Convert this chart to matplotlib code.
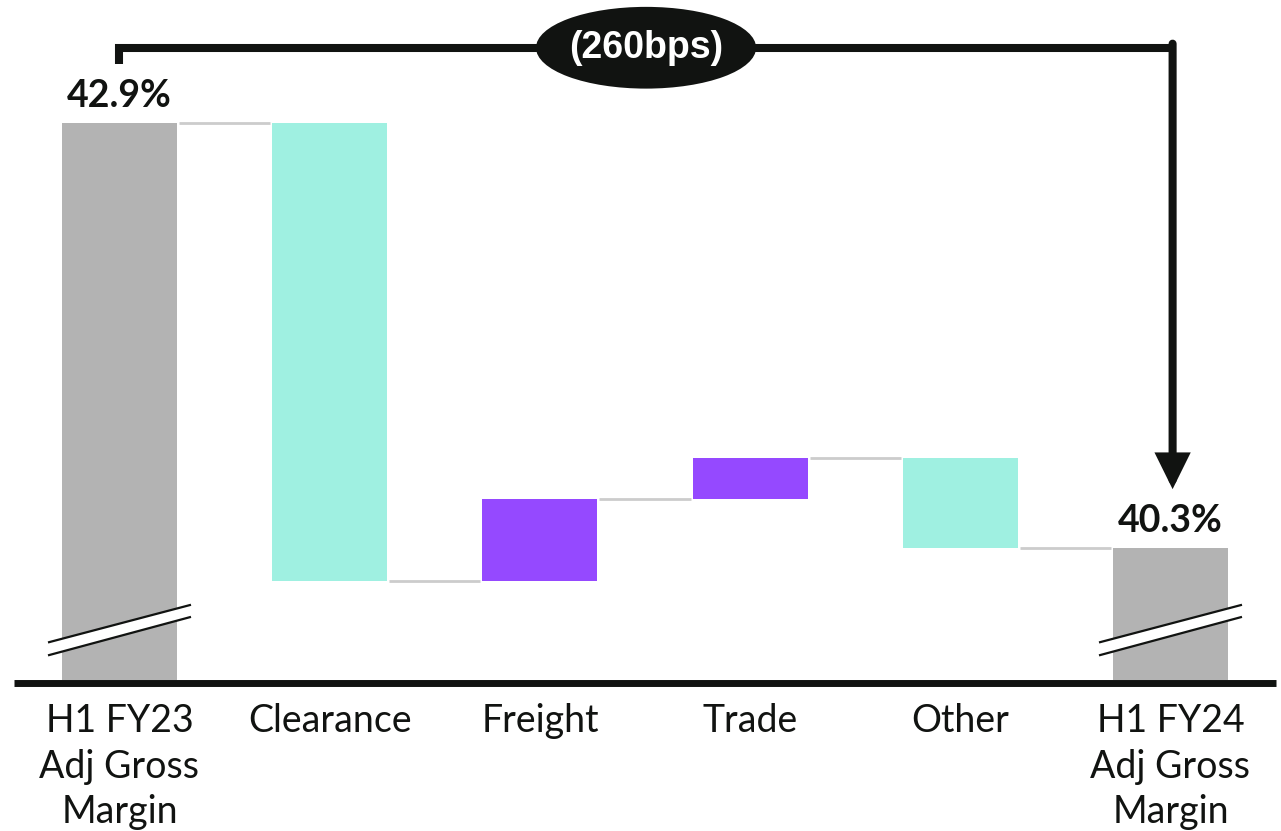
import matplotlib
matplotlib.use("Agg")
import matplotlib.pyplot as plt
from matplotlib.patches import Ellipse, Polygon

# waterfall data (percentage points of gross margin)
categories = ["H1 FY23\nAdj Gross\nMargin", "Clearance", "Freight", "Trade", "Other",
              "H1 FY24\nAdj Gross\nMargin"]
start_value = 42.9
deltas = [-2.8, 0.5, 0.25, -0.55]
end_value = 40.3
total_labels = ["42.9%", "40.3%"]
bridge_label = "(260bps)"

GREY = "#b3b3b3"
MINT = "#9ff0e1"
PURPLE = "#9549ff"
INK = "#111311"
CONN = "#cccccc"

fig = plt.figure(figsize=(12.81, 8.31), dpi=100)
ax = fig.add_axes([0, 0, 1, 1])
ax.set_xlim(-0.5685, 5.5257)
ax.set_ylim(38.569, 43.652)
ax.axis("off")

font = ["Lato", "DejaVu Sans"]
base = 39.492  # where the bars sit on the axis line
width = 0.547

# running level after each bar
levels = [start_value]
for d in deltas:
    levels.append(levels[-1] + d)

ax.bar(0, start_value - base, bottom=base, width=width, color=GREY, zorder=2)
for i, d in enumerate(deltas, start=1):
    lo = min(levels[i - 1], levels[i])
    col = MINT if d < 0 else PURPLE
    ax.bar(i, abs(d), bottom=lo, width=width, color=col, zorder=2)
ax.bar(5, end_value - base, bottom=base, width=width, color=GREY, zorder=2)

# connector lines between bars
for i in range(5):
    y = levels[i]
    ax.plot([i + width / 2 + 0.01, i + 1 - width / 2 - 0.01], [y, y],
            color=CONN, lw=2, zorder=1, solid_capstyle="butt")

# axis line
ax.plot([-0.5, 5.5], [base - 0.02, base - 0.02], color=INK, lw=5, zorder=4,
        solid_capstyle="butt")

# axis break marks on the total bars
for xc in (0, 5):
    dx = 0.335
    l1 = (base + 0.232, base + 0.459)
    l2 = (base + 0.153, base + 0.385)
    band = Polygon([(xc - dx, l1[0]), (xc + dx, l1[1]), (xc + dx, l2[1]), (xc - dx, l2[0])],
                   closed=True, facecolor="white", edgecolor="none", zorder=3)
    ax.add_patch(band)
    ax.plot([xc - dx, xc + dx], [l1[0], l1[1]], color=INK, lw=1.6, zorder=3)
    ax.plot([xc - dx, xc + dx], [l2[0], l2[1]], color=INK, lw=1.6, zorder=3)

# value labels on totals
for xc, v, lab in [(0, start_value, total_labels[0]), (5, end_value, total_labels[1])]:
    ax.annotate(lab, (xc, v), xytext=(0, 7), textcoords="offset points",
                ha="center", va="bottom", fontsize=27, fontweight="bold",
                color=INK, family=font)

# category labels
for i, c in enumerate(categories):
    ax.text(i, 0.154, c, transform=ax.get_xaxis_transform(), ha="center", va="top",
            fontsize=27, color=INK, family=font, linespacing=1.33)

# bracket with arrow
top = start_value + 0.46
tick_low = start_value + 0.36
tip = end_value + 0.36
ax.plot([0, 0, 5.01], [tick_low, top, top], color=INK, lw=5.8, zorder=5,
        solid_joinstyle="miter", solid_capstyle="butt")
ax.annotate("", xy=(5.01, tip), xytext=(5.01, top + 0.025),
            arrowprops=dict(arrowstyle="-|>,head_length=0.85,head_width=0.42",
                            mutation_scale=20, lw=5.8, color=INK,
                            shrinkA=0, shrinkB=0, joinstyle="miter"),
            zorder=5)
ax.add_patch(Ellipse((2.505, top), 1.047, 0.5, facecolor=INK, edgecolor="none", zorder=6))
ax.text(2.505, top, bridge_label, ha="center", va="center", fontsize=27,
        fontweight="bold", color="white", family=["Liberation Sans", "DejaVu Sans"], zorder=7)

fig.savefig("out.png", dpi=100)
